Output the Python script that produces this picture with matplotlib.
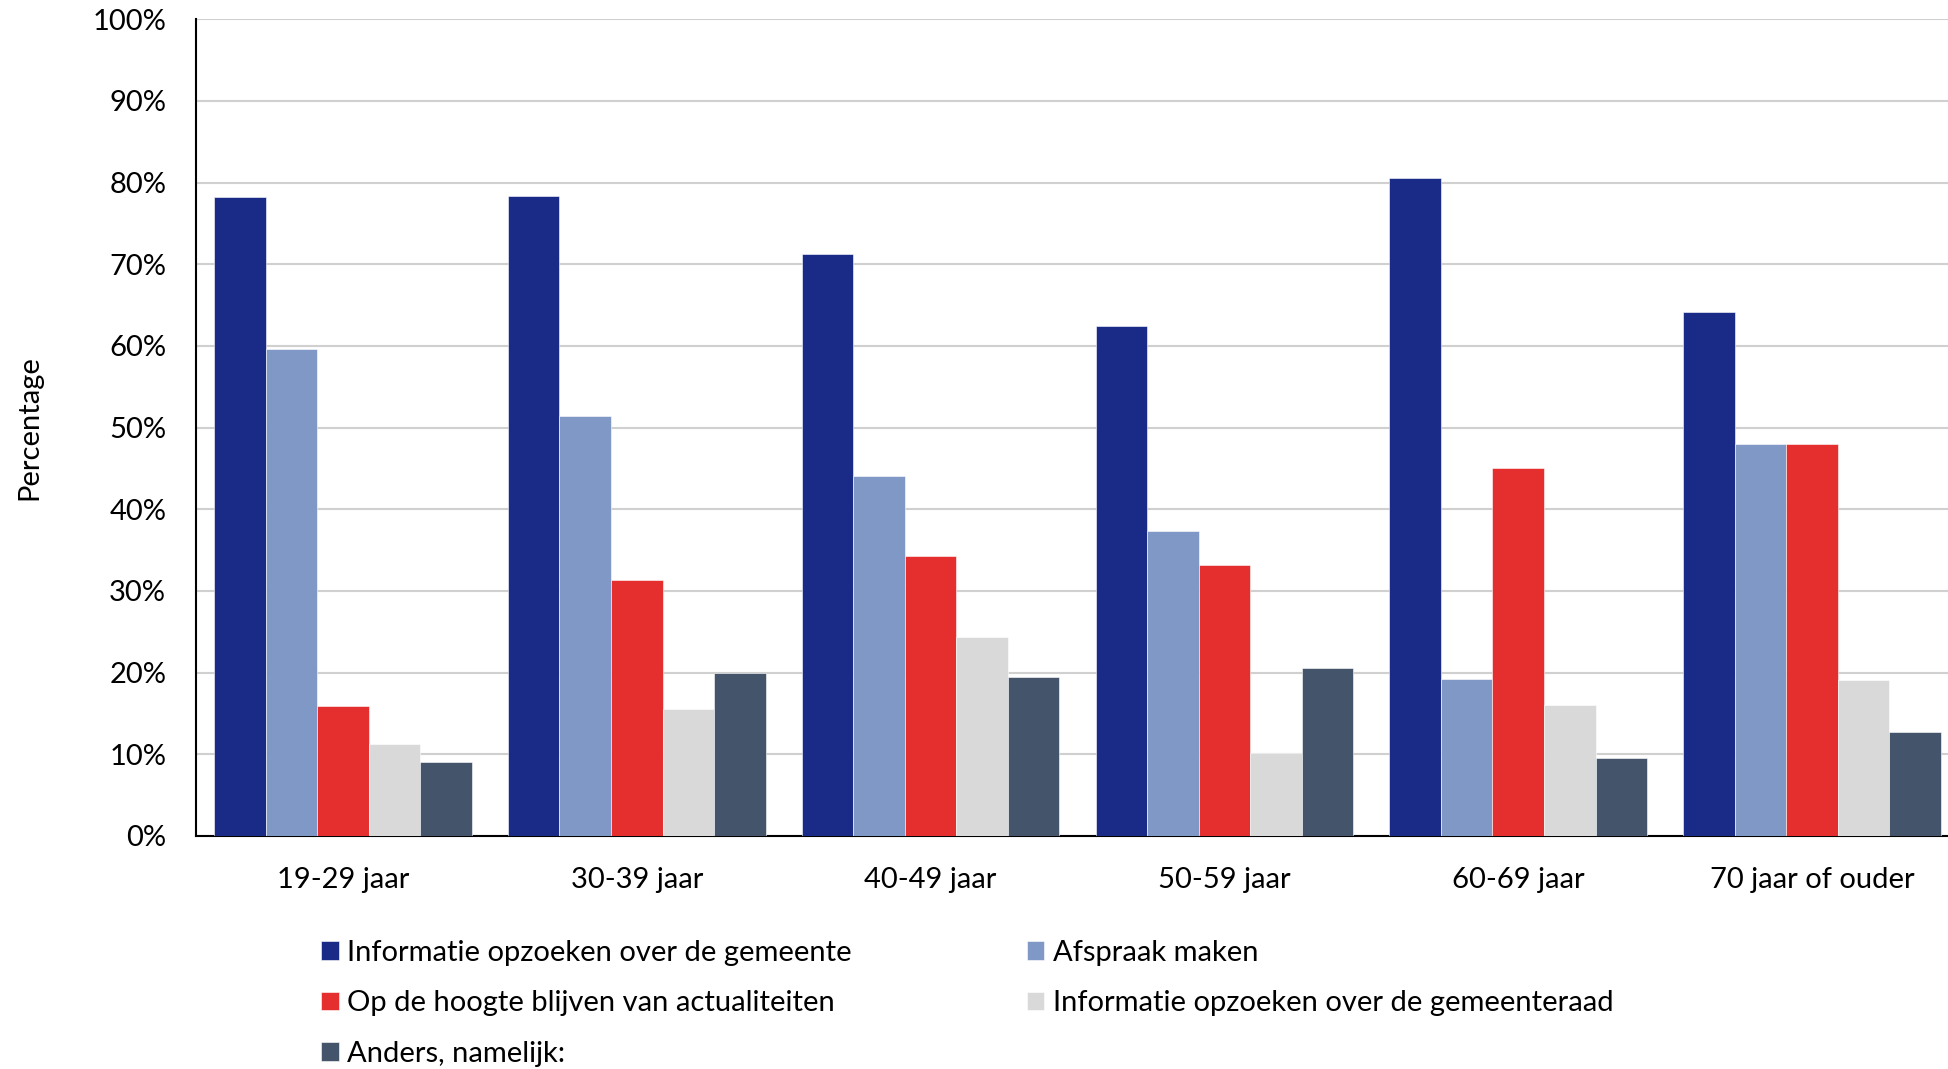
import matplotlib.pyplot as plt
import numpy as np

plt.rcParams['font.family'] = ['Lato', 'DejaVu Sans']

groups = ['19-29 jaar', '30-39 jaar', '40-49 jaar', '50-59 jaar', '60-69 jaar', '70 jaar of ouder']
series = ['Informatie opzoeken over de gemeente', 'Afspraak maken',
          'Op de hoogte blijven van actualiteiten', 'Informatie opzoeken over de gemeenteraad',
          'Anders, namelijk:']
info_gemeente = [78.2, 78.4, 71.2, 62.5, 80.6, 64.1]
afspraak = [59.6, 51.4, 44.1, 37.3, 19.2, 48.0]
actualiteiten = [15.9, 31.3, 34.3, 33.2, 45.0, 48.0]
gemeenteraad = [11.3, 15.5, 24.4, 10.2, 16.0, 19.1]
anders = [9.0, 20.0, 19.5, 20.6, 9.6, 12.7]
colors = ['#192A87', '#8098C6', '#E52E2E', '#D9D9D9', '#44546A']

values = [info_gemeente, afspraak, actualiteiten, gemeenteraad, anders]

fig = plt.figure(figsize=(19.49, 10.69), dpi=100)
ax = fig.add_axes([0.1006, 0.218, 0.8994, 0.764])

x = np.arange(len(groups))
bw = 0.877 / 5
handles = []
for i, (vals, c) in enumerate(zip(values, colors)):
    b = ax.bar(x + (i - 2) * bw, vals, bw, color=c, edgecolor='white', linewidth=0.4,
               label=series[i], zorder=3)
    handles.append(b)

ax.set_ylim(0, 100)
ax.set_xlim(-0.5, 5.466)
ax.set_yticks(np.arange(0, 101, 10))
ax.set_yticklabels([f'{v}%' for v in range(0, 101, 10)])
ax.set_xticks(x)
ax.set_xticklabels(groups)
ax.tick_params(axis='both', length=0, labelsize=21)
ax.tick_params(axis='y', pad=21.5)
ax.tick_params(axis='x', pad=22)
ax.grid(axis='y', color='#D0D0D0', linewidth=1.5, zorder=0)
ax.set_axisbelow(True)
for s in ['top', 'right']:
    ax.spines[s].set_visible(False)
ax.spines['left'].set_linewidth(1.5)
ax.spines['bottom'].set_linewidth(1.5)
ax.set_ylabel('Percentage', fontsize=21, labelpad=36)

order = [0, 2, 4, 1, 3]
fig.legend([handles[i] for i in order], [series[i] for i in order],
           loc='upper left', bbox_to_anchor=(0.1647, 0.1207), ncol=2, frameon=False,
           fontsize=21, handlelength=0.6, handleheight=0.6, handletextpad=0.3,
           labelspacing=0.84, columnspacing=6.0, borderaxespad=0, borderpad=0)

fig.savefig('out.png', dpi=100)
